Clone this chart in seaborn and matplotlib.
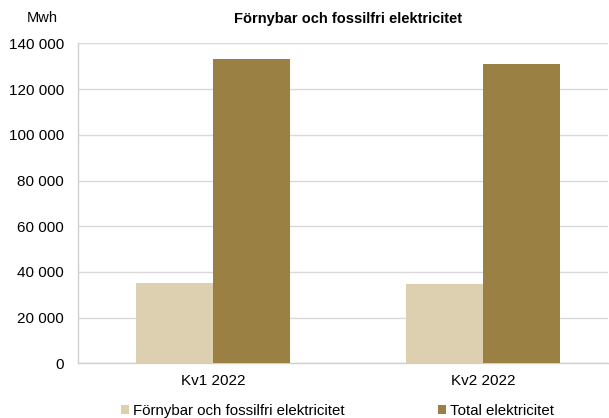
import matplotlib
matplotlib.use("Agg")
import matplotlib.pyplot as plt
import matplotlib.ticker as mticker
import pandas as pd
import seaborn as sns

QUARTERS = ["Kv1 2022", "Kv2 2022"]
SERIES = ["Förnybar och fossilfri elektricitet", "Total elektricitet"]
RENEWABLE = [35000, 34600]
TOTAL = [133000, 131200]
COLORS = ["#DDD0B0", "#9A8042"]

df = pd.DataFrame({
    "quarter": QUARTERS * 2,
    "series": [SERIES[0]] * 2 + [SERIES[1]] * 2,
    "mwh": RENEWABLE + TOTAL,
})

sns.set_style("white")
plt.rcParams["font.family"] = ["Liberation Sans", "DejaVu Sans"]
plt.rcParams["text.color"] = "black"

fig = plt.figure(figsize=(6.09, 4.18), dpi=100)
ax = fig.add_axes([0.128, 0.131, 0.87, 0.765])

sns.barplot(data=df, x="quarter", y="mwh", hue="series", palette=COLORS,
            width=0.57, saturation=1, linewidth=0, ax=ax, zorder=3)

ax.set_xlim(-0.5, 1.46)
ax.set_ylim(0, 140000)
ax.set_yticks(range(0, 140001, 20000))
ax.yaxis.set_major_formatter(
    mticker.FuncFormatter(lambda v, _: f"{int(v):,}".replace(",", " ")))
ax.grid(axis="y", color="#d9d9d9", linewidth=1, zorder=0)
ax.set_xlabel("")
ax.set_ylabel("")
ax.tick_params(axis="y", length=0, labelsize=11, colors="black", pad=10)
ax.tick_params(axis="x", length=0, labelsize=11, colors="black", pad=8)
for side in ["top", "right"]:
    ax.spines[side].set_visible(False)
for side in ["left", "bottom"]:
    ax.spines[side].set_color("#d0d0d0")
    ax.spines[side].set_linewidth(1)

fig.text(0.572, 0.955, "Förnybar och fossilfri elektricitet", fontsize=10.5,
         fontweight="bold", ha="center", va="center")
fig.text(0.069, 0.957, "Mwh", fontsize=10.5, ha="center", va="center")

ax.legend(loc="center", bbox_to_anchor=(0.49, -0.15), ncol=2,
          frameon=False, fontsize=10.8, handlelength=0.55, handleheight=0.55,
          handletextpad=0.27, columnspacing=6.2)

fig.savefig("out.png", dpi=100)
